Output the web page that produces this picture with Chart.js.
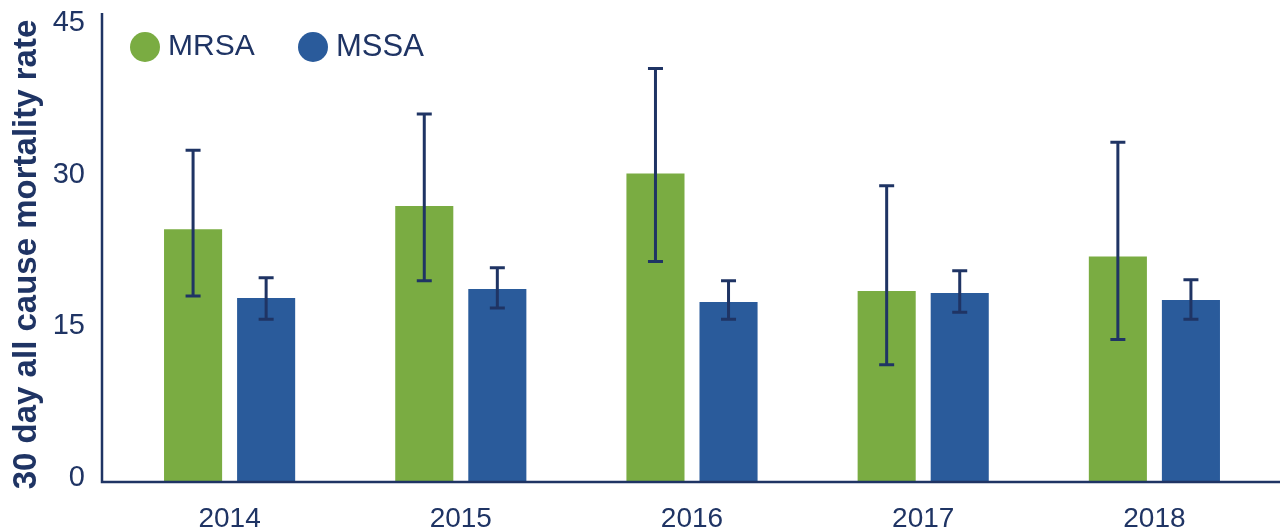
<!DOCTYPE html>
<html lang="en">
<head>
    <meta charset="UTF-8">
    <script src="https://cdn.jsdelivr.net/npm/chart.js"></script>
    <title>30 day all cause mortality rate</title>
    <style>
        html, body { margin: 0; padding: 0; background: #fff; }
        .wrap { width: 1284px; height: 531px; }
    </style>
</head>
<body>
    <div class="wrap">
        <canvas id="grafico" width="1284" height="531"></canvas>
    </div>

    <script>
        // Dados
        const anos = ['2014', '2015', '2016', '2017', '2018'];
        const mrsa = [25.0, 27.3, 30.5, 18.9, 22.3];
        const mrsaBaixo = [18.4, 19.9, 21.8, 11.6, 14.1];
        const mrsaAlto = [32.8, 36.4, 40.9, 29.3, 33.6];
        const mssa = [18.2, 19.1, 17.8, 18.7, 18.0];
        const mssaBaixo = [16.1, 17.2, 16.1, 16.8, 16.1];
        const mssaAlto = [20.2, 21.2, 19.9, 20.9, 20.0];
        const ticksY = [0, 15, 30, 45];

        const azulEscuro = '#1f3464';
        const verde = '#7aac42';
        const azul = '#2a5b9b';

        // Barras de erro desenhadas pelas escalas do gráfico
        const barrasErro = {
            id: 'barrasErro',
            afterDatasetsDraw(chart) {
                const ctx = chart.ctx;
                const y = chart.scales.y;
                ctx.save();
                ctx.strokeStyle = azulEscuro;
                ctx.lineWidth = 3;
                chart.data.datasets.forEach((ds, i) => {
                    const meta = chart.getDatasetMeta(i);
                    meta.data.forEach((bar, j) => {
                        const x = bar.x;
                        const yb = y.getPixelForValue(ds.baixo[j]);
                        const ya = y.getPixelForValue(ds.alto[j]);
                        ctx.beginPath();
                        ctx.moveTo(x, yb); ctx.lineTo(x, ya);
                        ctx.moveTo(x - 7.5, yb); ctx.lineTo(x + 7.5, yb);
                        ctx.moveTo(x - 7.5, ya); ctx.lineTo(x + 7.5, ya);
                        ctx.stroke();
                    });
                });
                ctx.restore();
            }
        };

        // Eixos e legenda
        const eixosLegenda = {
            id: 'eixosLegenda',
            afterDraw(chart) {
                const ctx = chart.ctx;
                const base = chart.scales.y.getPixelForValue(0);
                ctx.save();
                ctx.strokeStyle = azulEscuro;
                ctx.lineWidth = 2.5;
                ctx.beginPath();
                ctx.moveTo(102, 13);
                ctx.lineTo(102, base);
                ctx.lineTo(1280, base);
                ctx.stroke();

                const itens = [{ x: 145, size: 30 }, { x: 313, size: 31 }];
                chart.data.datasets.forEach((ds, i) => {
                    const it = itens[i];
                    ctx.fillStyle = ds.backgroundColor;
                    ctx.beginPath();
                    ctx.arc(it.x, 47, 15, 0, Math.PI * 2);
                    ctx.fill();
                    ctx.fillStyle = azulEscuro;
                    ctx.font = it.size + 'px "Liberation Sans", Arial, sans-serif';
                    ctx.textBaseline = 'middle';
                    ctx.fillText(ds.label, it.x + 23, 47);
                });
                ctx.restore();
            }
        };

        const ctx = document.getElementById('grafico').getContext('2d');
        new Chart(ctx, {
            type: 'bar',
            data: {
                labels: anos,
                datasets: [
                    { label: 'MRSA', data: mrsa, baixo: mrsaBaixo, alto: mrsaAlto, backgroundColor: verde },
                    { label: 'MSSA', data: mssa, baixo: mssaBaixo, alto: mssaAlto, backgroundColor: azul }
                ]
            },
            options: {
                responsive: false,
                animation: false,
                barPercentage: 0.795,
                categoryPercentage: 0.632,
                layout: { padding: { top: 27, right: 14, left: 0, bottom: 0 } },
                plugins: { legend: { display: false }, tooltip: { enabled: false } },
                scales: {
                    x: {
                        grid: { display: false, drawTicks: false },
                        border: { display: false },
                        ticks: {
                            color: azulEscuro,
                            padding: 20,
                            font: { family: '"Liberation Sans", Arial, sans-serif', size: 28 }
                        },
                        afterFit(s) { s.height = 49; }
                    },
                    y: {
                        min: 0,
                        max: 45,
                        afterBuildTicks(s) { s.ticks = ticksY.map(v => ({ value: v })); },
                        grid: { display: false, drawTicks: false },
                        border: { display: false },
                        ticks: {
                            color: azulEscuro,
                            padding: 29,
                            labelOffset: -4,
                            font: { family: '"Liberation Sans", Arial, sans-serif', size: 29 }
                        },
                        title: {
                            display: true,
                            text: '30 day all cause mortality rate',
                            color: azulEscuro,
                            padding: { top: 7, bottom: 0 },
                            font: { family: '"Liberation Sans", Arial, sans-serif', size: 33, weight: 'bold' }
                        },
                        afterFit(s) {
                            s.width = 114;
                            s.paddingTop = 0;
                            s.paddingBottom = 0;
                        }
                    }
                }
            },
            plugins: [barrasErro, eixosLegenda]
        });
    </script>
</body>
</html>
